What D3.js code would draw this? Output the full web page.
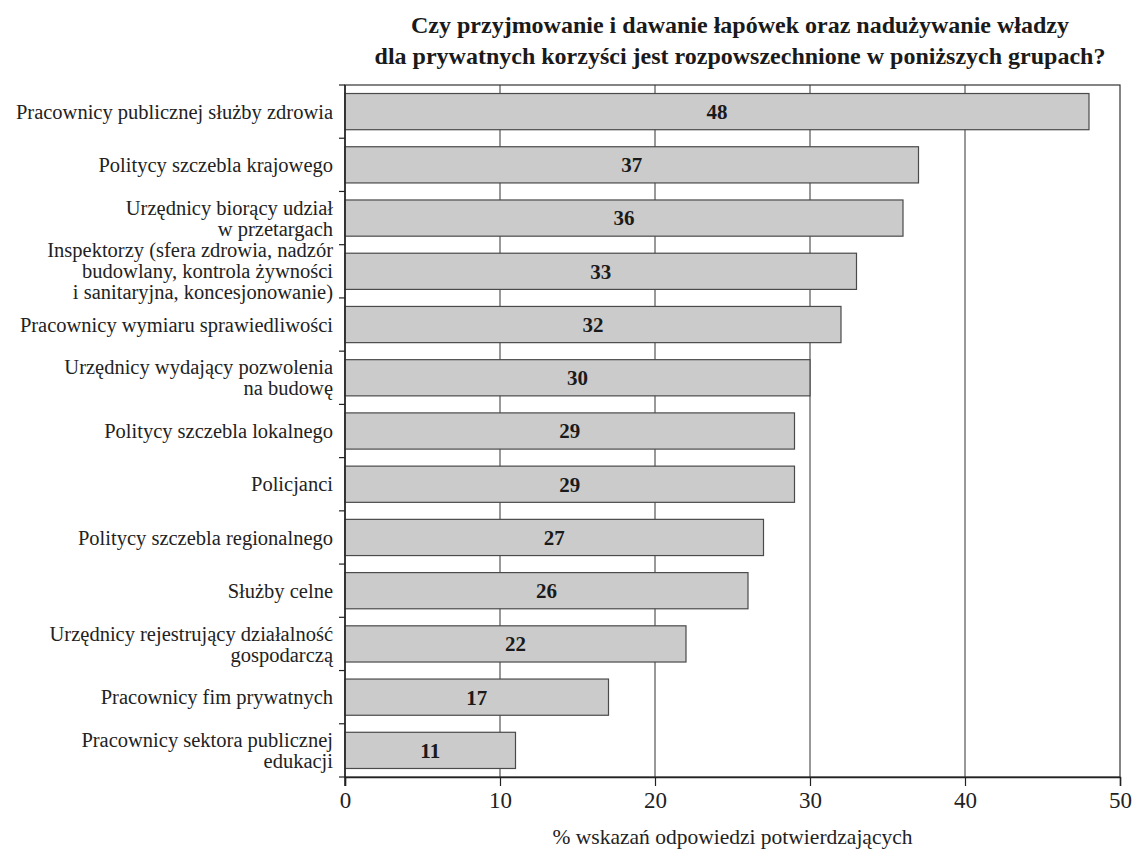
<!DOCTYPE html>
<html>
<head>
<meta charset="utf-8">
<script src="https://cdn.jsdelivr.net/npm/d3@7"></script>
<style>
  html, body { margin: 0; padding: 0; background: #fff; }
  svg { display: block; }
</style>
</head>
<body>
<script>
// Groups asked about (line breaks mark wrapped labels)
const categories = [
  "Pracownicy publicznej służby zdrowia",
  "Politycy szczebla krajowego",
  "Urzędnicy biorący udział\nw przetargach",
  "Inspektorzy (sfera zdrowia, nadzór\nbudowlany, kontrola żywności\ni sanitaryjna, koncesjonowanie)",
  "Pracownicy wymiaru sprawiedliwości",
  "Urzędnicy wydający pozwolenia\nna budowę",
  "Politycy szczebla lokalnego",
  "Policjanci",
  "Politycy szczebla regionalnego",
  "Służby celne",
  "Urzędnicy rejestrujący działalność\ngospodarczą",
  "Pracownicy fim prywatnych",
  "Pracownicy sektora publicznej\nedukacji"
];
const values = [48, 37, 36, 33, 32, 30, 29, 29, 27, 26, 22, 17, 11];
const xTicks = [0, 10, 20, 30, 40, 50];
const titleLines = [
  "Czy przyjmowanie i dawanie łapówek oraz nadużywanie władzy",
  "dla prywatnych korzyści jest rozpowszechnione w poniższych grupach?"
];
const xAxisTitle = "% wskazań odpowiedzi potwierdzających";

const FONT = "'Liberation Serif', 'Times New Roman', serif";
const W = 1135, H = 851;
const margin = { top: 85, right: 15, bottom: 74, left: 345 };
const innerW = W - margin.left - margin.right;
const innerH = H - margin.top - margin.bottom;

const svg = d3.select("body").append("svg")
  .attr("width", W).attr("height", H)
  .attr("font-family", FONT);
const g = svg.append("g").attr("transform", `translate(${margin.left},${margin.top})`);

const x = d3.scaleLinear().domain([0, 50]).range([0, innerW]);
const y = d3.scaleBand().domain(categories).range([0, innerH]).paddingInner(0.32).paddingOuter(0.16);
const step = y.step();

// Frame (top and right edges)
g.append("rect").attr("x", 0).attr("y", 0).attr("width", innerW).attr("height", innerH)
  .attr("fill", "none").attr("stroke", "#333").attr("stroke-width", 1.2);

// Vertical gridlines
g.selectAll("line.grid").data(xTicks.filter(t => t > 0 && t < 50)).join("line")
  .attr("class", "grid")
  .attr("x1", d => x(d)).attr("x2", d => x(d))
  .attr("y1", 0).attr("y2", innerH)
  .attr("stroke", "#333").attr("stroke-width", 1);

// Bars
g.selectAll("rect.bar").data(values).join("rect")
  .attr("class", "bar")
  .attr("x", 0)
  .attr("y", (d, i) => y(categories[i]))
  .attr("width", d => x(d))
  .attr("height", y.bandwidth())
  .attr("fill", "#cbcbcb")
  .attr("stroke", "#4a4a4a")
  .attr("stroke-width", 1.2);

// Value labels
g.selectAll("text.val").data(values).join("text")
  .attr("class", "val")
  .attr("x", d => x(d) / 2)
  .attr("y", (d, i) => y(categories[i]) + y.bandwidth() / 2)
  .attr("dy", "0.35em")
  .attr("text-anchor", "middle")
  .attr("font-family", FONT)
  .attr("font-weight", "bold")
  .attr("font-size", 21)
  .attr("fill", "#1a1a1a")
  .text(d => d);

// Bottom axis
const xAxis = g.append("g").attr("transform", `translate(0,${innerH})`)
  .call(d3.axisBottom(x).tickValues(xTicks).tickSize(9).tickPadding(6));
xAxis.select(".domain").attr("stroke", "#222").attr("stroke-width", 1.5);
xAxis.selectAll(".tick line").attr("stroke", "#222").attr("stroke-width", 1.2);
xAxis.selectAll(".tick text")
  .attr("font-size", 23).attr("font-family", FONT).attr("fill", "#222");

// Left axis: ticks at category boundaries
const bounds = d3.range(categories.length + 1).map(i => i * step);
g.append("line").attr("x1", 0).attr("x2", 0).attr("y1", 0).attr("y2", innerH + 9)
  .attr("stroke", "#222").attr("stroke-width", 1.5);
g.selectAll("line.ytick").data(bounds).join("line")
  .attr("class", "ytick")
  .attr("x1", -6).attr("x2", 0)
  .attr("y1", d => d).attr("y2", d => d)
  .attr("stroke", "#222").attr("stroke-width", 1.2);

// Category labels
const lineH = 21;
g.selectAll("text.cat").data(categories).join("text")
  .attr("class", "cat")
  .attr("text-anchor", "end")
  .attr("font-family", FONT)
  .attr("font-size", 20.5)
  .attr("fill", "#222")
  .each(function (d) {
    const lines = d.split("\n");
    const cy = y(d) + y.bandwidth() / 2;
    const t = d3.select(this);
    lines.forEach((ln, k) => {
      t.append("tspan")
        .attr("x", -12)
        .attr("y", cy + (k - (lines.length - 1) / 2) * lineH)
        .attr("dy", "0.35em")
        .text(ln);
    });
  });

// Title
svg.append("g").selectAll("text").data(titleLines).join("text")
  .attr("x", 740)
  .attr("y", (d, i) => 33 + i * 31)
  .attr("text-anchor", "middle")
  .attr("font-family", FONT)
  .attr("font-weight", "bold")
  .attr("font-size", 24)
  .attr("fill", "#1a1a1a")
  .text(d => d);

// X axis title
svg.append("text")
  .attr("x", margin.left + innerW / 2)
  .attr("y", 844)
  .attr("text-anchor", "middle")
  .attr("font-family", FONT)
  .attr("font-size", 21.5)
  .attr("fill", "#222")
  .text(xAxisTitle);
</script>
</body>
</html>
